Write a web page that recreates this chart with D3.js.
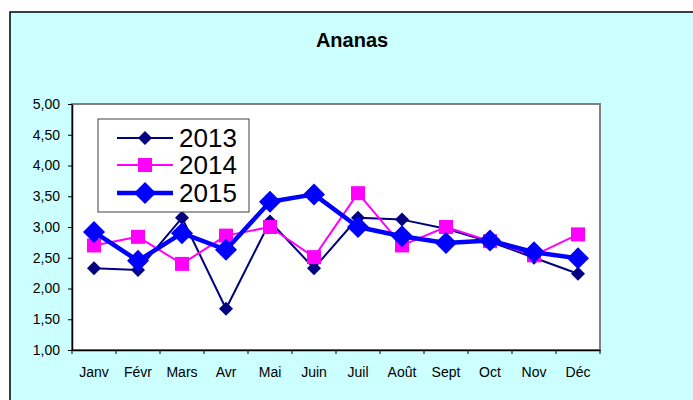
<!DOCTYPE html>
<html>
<head>
<meta charset="utf-8">
<script src="https://cdn.jsdelivr.net/npm/d3@7"></script>
<style>
  body { margin: 0; background: #fff; }
  svg { display: block; font-family: Arial, "Liberation Sans", sans-serif; }
</style>
</head>
<body>
<svg id="svg" width="693" height="400"></svg>
<script>
const months = ['Janv', 'Févr', 'Mars', 'Avr', 'Mai', 'Juin', 'Juil', 'Août', 'Sept', 'Oct', 'Nov', 'Déc'];
const v2013 = [2.33, 2.30, 3.15, 1.67, 3.09, 2.33, 3.15, 3.12, 2.97, 2.76, 2.50, 2.24];
const v2014 = [2.70, 2.84, 2.40, 2.86, 3.00, 2.51, 3.55, 2.70, 3.00, 2.77, 2.54, 2.88];
const v2015 = [2.92, 2.45, 2.90, 2.63, 3.41, 3.53, 3.00, 2.85, 2.74, 2.78, 2.59, 2.49];
const yTicks = [1, 1.5, 2, 2.5, 3, 3.5, 4, 4.5, 5];

const series = [
  {name: '2013', values: v2013, color: '#000080', width: 2, marker: 'diamond', size: 7},
  {name: '2014', values: v2014, color: '#FF00FF', width: 2, marker: 'square', size: 7},
  {name: '2015', values: v2015, color: '#0000FF', width: 4.5, marker: 'diamond', size: 11}
];

const plot = {left: 72, top: 104, right: 600, bottom: 350};

const svg = d3.select('#svg');

// outer chart area
svg.append('rect')
  .attr('x', 10).attr('y', 12)
  .attr('width', 700).attr('height', 400)
  .attr('fill', '#CCFFFF')
  .attr('stroke', '#000').attr('stroke-width', 1.5);

svg.append('text')
  .attr('x', 352).attr('y', 47)
  .attr('text-anchor', 'middle')
  .attr('font-size', 20).attr('font-weight', 'bold')
  .text('Ananas');

const xScale = d3.scaleBand()
  .domain(months)
  .range([plot.left, plot.right]);

const yScale = d3.scaleLinear()
  .domain([1, 5])
  .range([plot.bottom, plot.top]);

// plot area
svg.append('rect')
  .attr('x', plot.left).attr('y', plot.top)
  .attr('width', plot.right - plot.left).attr('height', plot.bottom - plot.top)
  .attr('fill', '#fff')
  .attr('stroke', '#808080').attr('stroke-width', 2);

const fmt = d => d.toFixed(2).replace('.', ',');

const yAxis = svg.append('g')
  .attr('transform', `translate(${plot.left},0)`)
  .call(d3.axisLeft(yScale).tickValues(yTicks).tickFormat(fmt).tickSize(4).tickSizeOuter(0).tickPadding(8));

const xAxis = svg.append('g')
  .attr('transform', `translate(0,${plot.bottom})`)
  .call(d3.axisBottom(xScale).tickSize(0).tickSizeOuter(0).tickPadding(17));

// category tick marks between bands
xAxis.selectAll('.sep')
  .data(d3.range(months.length + 1))
  .enter()
  .append('line')
  .attr('class', 'sep')
  .attr('x1', i => plot.left + i * xScale.step())
  .attr('x2', i => plot.left + i * xScale.step())
  .attr('y1', 0).attr('y2', 4)
  .attr('stroke', '#000');

[yAxis, xAxis].forEach(ax => {
  ax.select('.domain').attr('stroke', '#000').attr('stroke-width', 1.5);
  ax.selectAll('.tick line').attr('stroke', '#000');
  ax.selectAll('text').attr('font-family', 'Arial, "Liberation Sans", sans-serif').attr('fill', '#000');
});
yAxis.selectAll('text').attr('font-size', 14);
xAxis.selectAll('text').attr('font-size', 14);

const cx = (d, i) => xScale(months[i]) + xScale.bandwidth() / 2;

function markerPath(type, s) {
  if (type === 'square') return `M${-s},${-s}H${s}V${s}H${-s}Z`;
  return `M0,${-s}L${s},0L0,${s}L${-s},0Z`;
}

const line = d3.line()
  .x(cx)
  .y(d => yScale(d));

series.forEach(s => {
  const g = svg.append('g');
  g.append('path')
    .datum(s.values)
    .attr('d', line)
    .attr('fill', 'none')
    .attr('stroke', s.color)
    .attr('stroke-width', s.width)
    .attr('stroke-linejoin', 'round');
  g.selectAll('path.marker')
    .data(s.values)
    .enter()
    .append('path')
    .attr('class', 'marker')
    .attr('transform', (d, i) => `translate(${cx(d, i)},${yScale(d)})`)
    .attr('d', markerPath(s.marker, s.size))
    .attr('fill', s.color);
});

// legend
const legend = svg.append('g');
legend.append('rect')
  .attr('x', 98).attr('y', 119)
  .attr('width', 151).attr('height', 93)
  .attr('fill', '#fff')
  .attr('stroke', '#404040').attr('stroke-width', 1);

const ly = [138, 165, 193];
series.forEach((s, i) => {
  const row = legend.append('g').attr('transform', `translate(0,${ly[i]})`);
  row.append('line')
    .attr('x1', 117).attr('x2', 173)
    .attr('stroke', s.color).attr('stroke-width', s.width);
  row.append('path')
    .attr('transform', 'translate(145,0)')
    .attr('d', markerPath(s.marker, s.size))
    .attr('fill', s.color);
  row.append('text')
    .attr('x', 179).attr('y', 9)
    .attr('font-size', 26)
    .text(s.name);
});
</script>
</body>
</html>
